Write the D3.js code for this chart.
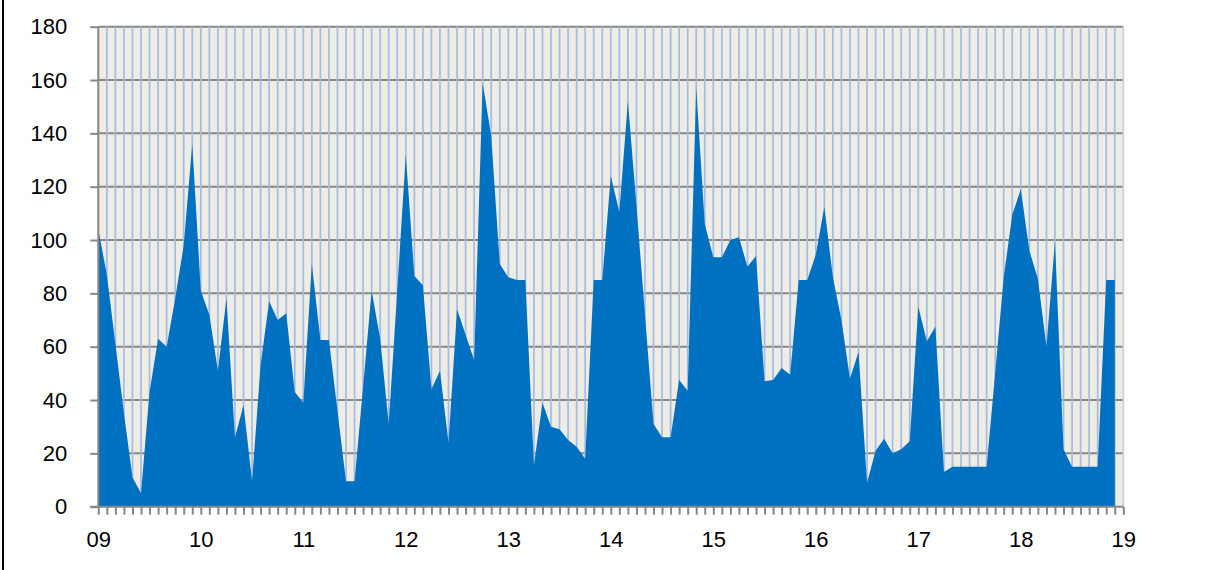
<!DOCTYPE html>
<html>
<head>
<meta charset="utf-8">
<script src="https://cdn.jsdelivr.net/npm/d3@7"></script>
<style>
  html, body { margin: 0; padding: 0; background: #ffffff; }
  svg { display: block; }
  text { font-family: "Liberation Sans", Arial, sans-serif; fill: #000; }
</style>
</head>
<body>
<svg id="chart" width="1223" height="570"></svg>
<script>
// Hour tick labels (one every 12 five-minute steps)
const hourLabels = ["09","10","11","12","13","14","15","16","17","18","19"];
// Y axis ticks
const yTicks = [0, 20, 40, 60, 80, 100, 120, 140, 160, 180];
// Five-minute values from 09:00 to 18:55
const values = [
  104, 87, 61, 35, 11, 5, 43, 63, 60, 78, 98, 136,
  81, 72, 51, 78, 26, 38, 9.5, 53, 77, 70, 72.5, 43,
  39, 91, 62.5, 62.5, 36, 9.5, 9.5, 45, 81, 63, 31, 81,
  132, 86.5, 83, 44, 51, 24, 74, 64.5, 55, 159, 139, 91,
  86, 85, 85, 15.5, 39, 30, 29, 25, 22.5, 18, 85, 85,
  124, 110.5, 152, 113, 72, 31, 26, 26, 47.5, 43.5, 157, 106,
  93.5, 93.5, 100, 101, 90, 94, 47, 47.5, 52, 49.5, 85, 85,
  94.5, 112.5, 86, 70, 48, 58, 9, 21, 25.5, 20, 21.5, 24.5,
  75, 62, 67.5, 13, 15, 15, 15, 15, 15, 50, 86, 109.5,
  119, 96, 85.5, 60, 99.5, 21.5, 15, 15, 15, 15, 85, 85
];
const stepsPerHour = 12;
const totalSteps = (hourLabels.length - 1) * stepsPerHour; // 120

const svg = d3.select("#chart");
const pLeft = 98.3, pRight = 1123.3, pTop = 26.7, pBottom = 506.7;

const x = d3.scaleLinear().domain([0, totalSteps]).range([pLeft, pRight]);
const y = d3.scaleLinear().domain([0, 180]).range([pBottom, pTop]);

// left frame border
svg.append("line").attr("x1", 3).attr("x2", 3).attr("y1", 0).attr("y2", 570)
  .attr("stroke", "#000").attr("stroke-width", 2);

// plot background
svg.append("rect").attr("x", pLeft).attr("y", pTop)
  .attr("width", pRight - pLeft).attr("height", pBottom - pTop)
  .attr("fill", "#eeece3");

// horizontal gridlines
svg.append("g").selectAll("line").data(yTicks.filter(d => d > 0)).join("line")
  .attr("x1", pLeft).attr("x2", pRight)
  .attr("y1", d => y(d)).attr("y2", d => y(d))
  .attr("stroke", "#878787").attr("stroke-width", 2);

// vertical gridlines every 5 minutes
const stepIdx = d3.range(1, totalSteps + 1);
svg.append("g").selectAll("line").data(stepIdx).join("line")
  .attr("x1", d => x(d)).attr("x2", d => x(d))
  .attr("y1", pTop).attr("y2", pBottom)
  .attr("stroke", d => d === totalSteps ? "#c3d3ee" : "#a2bce8")
  .attr("stroke-width", 1.7);

// area
const area = d3.area()
  .x((d, i) => x(i))
  .y0(pBottom)
  .y1(d => y(d));
svg.append("path").datum(values)
  .attr("d", area)
  .attr("fill", "#0070c0");

// y axis
const yAxis = d3.axisLeft(y).tickValues(yTicks).tickSize(8).tickPadding(23)
  .tickFormat(d3.format("d"));
const gy = svg.append("g").attr("transform", `translate(${pLeft},0)`).call(yAxis);
gy.select(".domain").attr("stroke", "#878787").attr("stroke-width", 2)
  .attr("d", `M0,${pTop}V${pBottom}`);
gy.selectAll(".tick line").attr("stroke", "#878787").attr("stroke-width", 2);
gy.selectAll(".tick text").attr("font-size", 22)
  .attr("font-family", "Liberation Sans, Arial, sans-serif").attr("fill", "#000");

// x axis: ticks every 5 min, labels each hour
const xAxis = d3.axisBottom(x).tickValues(d3.range(0, totalSteps + 1)).tickSize(8)
  .tickFormat(d => d % stepsPerHour === 0 ? hourLabels[d / stepsPerHour] : "")
  .tickPadding(17);
const gx = svg.append("g").attr("transform", `translate(0,${pBottom})`).call(xAxis);
gx.select(".domain").attr("stroke", "#878787").attr("stroke-width", 2)
  .attr("d", `M${pLeft - 8},0H${pRight}`);
gx.selectAll(".tick line").attr("stroke", "#878787").attr("stroke-width", 2);
gx.selectAll(".tick text").attr("font-size", 22)
  .attr("font-family", "Liberation Sans, Arial, sans-serif").attr("fill", "#000");
</script>
</body>
</html>
